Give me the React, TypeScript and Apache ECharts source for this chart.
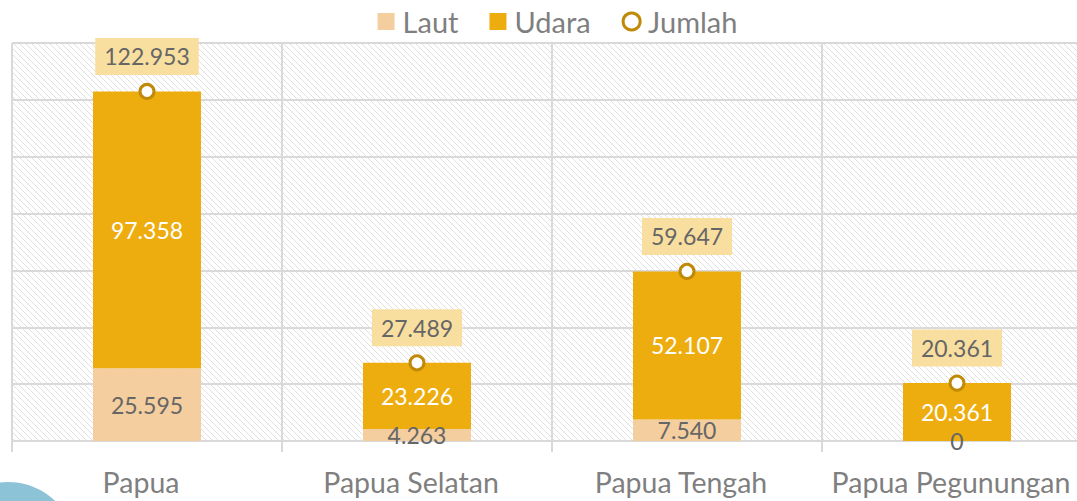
import { useEffect, useRef } from 'react';
import * as echarts from 'echarts';

const categories = ['Papua', 'Papua Selatan', 'Papua Tengah', 'Papua Pegunungan'];
const laut = [25595, 4263, 7540, 0];
const udara = [97358, 23226, 52107, 20361];
const jumlah = [122953, 27489, 59647, 20361];
const yMin = 0;
const yMax = 140000;
const yInterval = 20000;

const fmt = (n: number) => String(n).replace(/\B(?=(\d{3})+(?!\d))/g, '.');

function makeHatch() {
  const s = 6;
  const c = document.createElement('canvas');
  c.width = s;
  c.height = s;
  const ctx = c.getContext('2d')!;
  ctx.fillStyle = '#ffffff';
  ctx.fillRect(0, 0, s, s);
  ctx.strokeStyle = '#e0e0e0';
  ctx.lineWidth = 1;
  ctx.beginPath();
  ctx.moveTo(-1, -1);
  ctx.lineTo(s + 1, s + 1);
  ctx.moveTo(-1, s - 1);
  ctx.lineTo(1, s + 1);
  ctx.moveTo(s - 1, -1);
  ctx.lineTo(s + 1, 1);
  ctx.stroke();
  return c;
}

export default function App() {
  const ref = useRef<HTMLDivElement>(null);
  useEffect(() => {
    const chart = echarts.init(ref.current!, null, { renderer: 'svg' });
    const FONT = 'Lato';
    const hatch = makeHatch();
    chart.setOption({
      animation: false,
      backgroundColor: '#ffffff',
      textStyle: { fontFamily: FONT },
      legend: {
        top: 2,
        left: 'center',
        itemWidth: 17,
        itemHeight: 17,
        itemGap: 31,
        textStyle: { fontSize: 29, color: '#7f7f7f', fontFamily: FONT, padding: [0, 0, 0, 3] },
        data: [
          { name: 'Laut', icon: 'rect' },
          { name: 'Udara', icon: 'rect' },
          {
            name: 'Jumlah',
            icon: 'circle',
            itemStyle: { color: '#ffffff', borderColor: '#C08A08', borderWidth: 3 },
          },
        ],
      },
      grid: {
        left: 12,
        top: 43,
        bottom: 60,
        width: 1080,
        show: true,
        backgroundColor: { image: hatch, repeat: 'repeat' },
        borderWidth: 0,
      },
      xAxis: {
        type: 'category',
        data: categories,
        axisLine: { lineStyle: { color: '#d9d9d9', width: 2 } },
        axisTick: { show: true, length: 11, interval: 0, lineStyle: { color: '#d9d9d9', width: 2 } },
        splitLine: { show: true, interval: 0, lineStyle: { color: '#d9d9d9', width: 2 } },
        axisLabel: {
          fontSize: 28.5,
          color: '#7f7f7f',
          margin: 26,
          interval: 0,
          fontFamily: FONT,
          padding: [0, 12, 0, 0],
        },
      },
      yAxis: {
        type: 'value',
        min: yMin,
        max: yMax,
        interval: yInterval,
        axisLine: { show: false },
        axisTick: { show: false },
        axisLabel: { show: false },
        splitLine: { show: true, lineStyle: { color: '#d9d9d9', width: 2 } },
      },
      series: [
        {
          name: 'Laut',
          type: 'bar',
          stack: 'total',
          barWidth: '40%',
          data: laut,
          itemStyle: { color: '#F4CE9E' },
          label: {
            show: true,
            position: 'inside',
            color: '#666666',
            fontSize: 23,
            fontFamily: FONT,
            formatter: (p: any) => fmt(p.value),
          },
        },
        {
          name: 'Udara',
          type: 'bar',
          stack: 'total',
          barWidth: '40%',
          data: udara,
          itemStyle: { color: '#EEAD0E' },
          label: {
            show: true,
            position: 'inside',
            color: '#ffffff',
            fontSize: 23,
            fontFamily: FONT,
            formatter: (p: any) => fmt(p.value),
          },
        },
        {
          name: 'Jumlah',
          type: 'line',
          data: jumlah,
          z: 5,
          symbol: 'circle',
          symbolSize: 14,
          lineStyle: { opacity: 0, width: 0 },
          itemStyle: { color: '#ffffff', borderColor: '#C08A08', borderWidth: 3 },
          label: {
            show: true,
            position: 'top',
            distance: 8,
            color: '#666666',
            fontSize: 23,
            fontFamily: FONT,
            backgroundColor: '#F8DF9F',
            padding: [7, 9, 7, 9],
            formatter: (p: any) => fmt(p.value),
          },
        },
      ],
      graphic: [
        {
          type: 'circle',
          shape: { cx: 8, cy: 550, r: 68 },
          style: { fill: '#8DC3D6' },
          z: 10,
        },
      ],
    });
    return () => chart.dispose();
  }, []);
  return (
    <div
      style={{ position: 'absolute', left: 0, top: 0, width: 1077, height: 501, overflow: 'hidden' }}
    >
      <div ref={ref} style={{ width: 1115, height: 501 }} />
    </div>
  );
}
